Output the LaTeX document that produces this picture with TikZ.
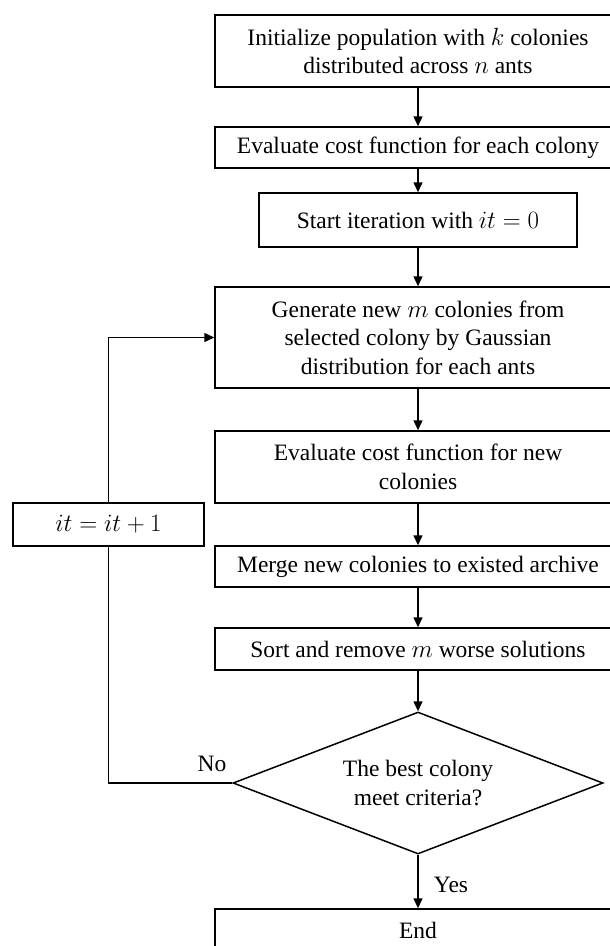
\documentclass[tikz,border=0pt]{standalone}
\usepackage{fontspec}
\setmainfont{Liberation Serif}
\usetikzlibrary{arrows.meta,shapes.geometric}
\begin{document}
\begin{tikzpicture}[x=1pt,y=-1pt,
  every node/.style={font=\fontsize{23.5}{28.5}\selectfont},
  box/.style={draw,line width=1.5pt,rectangle,align=center,inner sep=0pt,minimum width=406pt},
  decision/.style={draw,line width=1.5pt,diamond,shape aspect=2.6,align=center,inner sep=0pt,minimum width=370pt,minimum height=142pt},
  lbl/.style={inner sep=0pt},
  flow/.style={line width=1.5pt,-{Triangle[length=10pt,width=9pt]}},
  plain/.style={line width=1.5pt}]
\useasboundingbox (0,0) rectangle (610,946);
\clip (0,0) rectangle (610,946);
\node[box,minimum height=72pt] (b1) at (418,51) {Initialize population with $k$ colonies\\distributed across $n$ ants};
\node[box,minimum height=41pt] (b2) at (418,147.5) {Evaluate cost function for each colony};
\node[box,minimum height=54pt,minimum width=318pt] (b3) at (418,220) {Start iteration with $it=0$};
\node[box,minimum height=101pt] (b4) at (418,337.5) {Generate new $m$ colonies from\\selected colony by Gaussian\\distribution for each ants};
\node[box,minimum height=72pt] (b5) at (418,467) {Evaluate cost function for new\\colonies};
\node[box,minimum height=41pt] (b6) at (418,566.5) {Merge new colonies to existed archive};
\node[box,minimum height=42pt] (b7) at (418,649) {Sort and remove $m$ worse solutions};
\node[decision] (d) at (418,783) {The best colony\\meet criteria?};
\node[box,minimum height=42pt] (e) at (418,930) {End};
\node[box,minimum height=43pt,minimum width=191pt] (inc) at (108.5,524.5) {$it=it+1$};
\node[lbl] (no) at (212,764) {No};
\node[lbl] (yes) at (451,885) {Yes};
\draw[flow] (b1) -- (b2);
\draw[flow] (b2) -- (b3);
\draw[flow] (b3) -- (b4);
\draw[flow] (b4) -- (b5);
\draw[flow] (b5) -- (b6);
\draw[flow] (b6) -- (b7);
\draw[flow] (b7) -- (d);
\draw[flow] (d) -- (e);
\draw[plain] (d.west) -| (inc.south);
\draw[flow] (inc.north) |- (b4.west);
\end{tikzpicture}
\end{document}
